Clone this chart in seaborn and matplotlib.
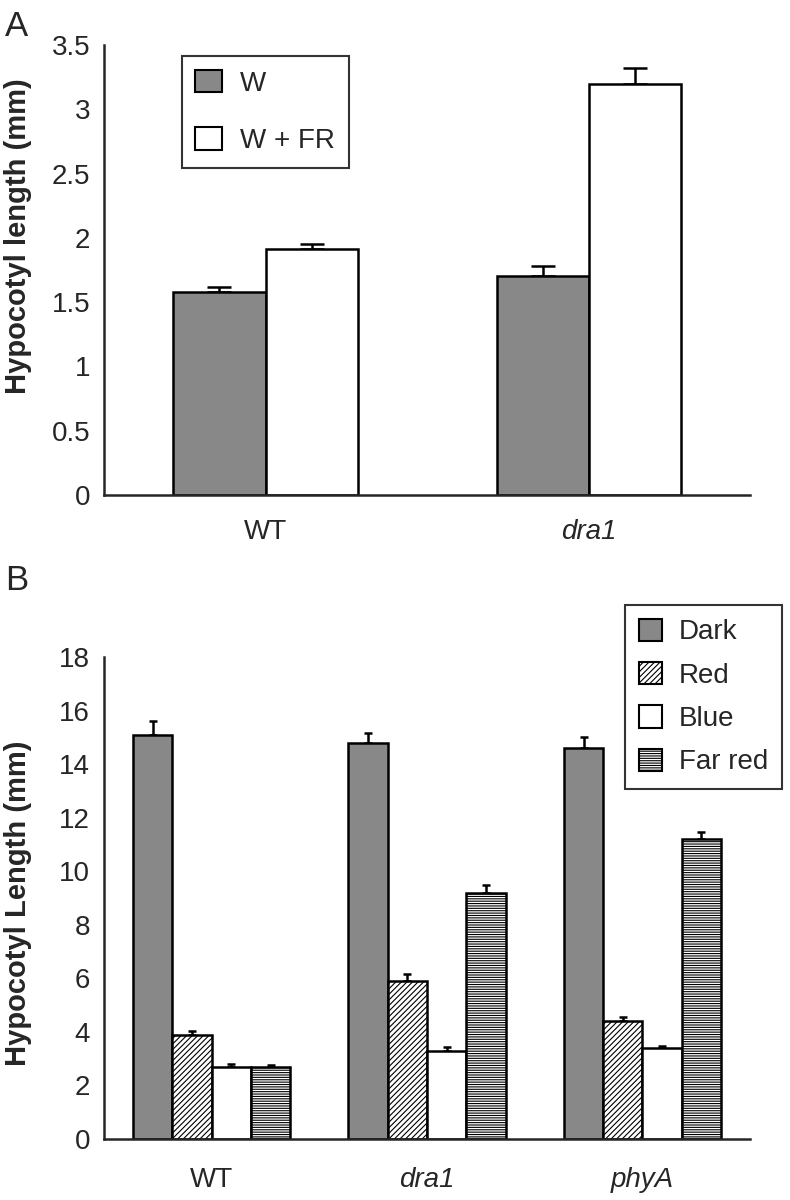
import matplotlib
matplotlib.use("Agg")
import matplotlib.pyplot as plt
import seaborn as sns
import pandas as pd

# Panel A
a_groups = ["WT", "dra1"]
a_treat = ["W", "W + FR"]
a_W = [1.58, 1.70]
a_WFR = [1.91, 3.20]
a_W_err = [0.04, 0.08]
a_WFR_err = [0.04, 0.12]

# Panel B
b_groups = ["WT", "dra1", "phyA"]
b_light = ["Dark", "Red", "Blue", "Far red"]
b_dark = [15.1, 14.8, 14.6]
b_red = [3.9, 5.9, 4.4]
b_blue = [2.7, 3.3, 3.4]
b_farred = [2.7, 9.2, 11.2]
b_dark_err = [0.5, 0.35, 0.4]
b_red_err = [0.15, 0.25, 0.15]
b_blue_err = [0.1, 0.15, 0.08]
b_farred_err = [0.08, 0.3, 0.25]

sns.set_style("white")
plt.rcParams["font.family"] = ["Liberation Sans", "DejaVu Sans"]
plt.rcParams["hatch.linewidth"] = 0.8
plt.rcParams["axes.linewidth"] = 1.8

GRAY = "#888888"
FS = 20

dfA = pd.DataFrame({
    "group": a_groups * 2,
    "treat": [a_treat[0]] * 2 + [a_treat[1]] * 2,
    "val": a_W + a_WFR,
})
errA = [a_W_err, a_WFR_err]

dfB = pd.DataFrame({
    "group": b_groups * 4,
    "light": sum([[l] * 3 for l in b_light], []),
    "val": b_dark + b_red + b_blue + b_farred,
})
errB = [b_dark_err, b_red_err, b_blue_err, b_farred_err]

fig = plt.figure(figsize=(7.9, 12), dpi=100)
axA = fig.add_axes([0.1316, 0.5875, 0.818, 0.375])
axB = fig.add_axes([0.1316, 0.0508, 0.818, 0.4017])


def style_axis(ax, ncat):
    sns.despine(ax=ax)
    ax.set_xlim(-0.5, ncat - 0.5)
    ax.set_xticks([i - 0.5 for i in range(ncat + 1)])
    ax.set_xticklabels([])
    ax.tick_params(axis="x", which="major", direction="out", length=8, width=1.8)
    ax.tick_params(axis="y", which="both", direction="out", width=1.8,
                   labelsize=FS, pad=3, length=7)
    ax.set_xlabel("")


def add_err(ax, errs, cap):
    for cont, err in zip(ax.containers, errs):
        for bar, e in zip(cont, err):
            x = bar.get_x() + bar.get_width() / 2
            h = bar.get_height()
            ax.errorbar(x, h, yerr=[[0], [e]], fmt="none", ecolor="black",
                        elinewidth=1.8, capsize=cap, capthick=1.8, zorder=1)


def cat_labels(ax, groups, off):
    for i, g in enumerate(groups):
        ax.annotate(g, xy=(i, 0), xycoords=("data", "axes fraction"),
                    xytext=(0, -off), textcoords="offset pixels",
                    ha="center", va="top", fontsize=FS,
                    style="italic" if g != "WT" else "normal")


# ---- A ----
sns.barplot(data=dfA, x="group", y="val", hue="treat", ax=axA, width=0.57,
            palette=[GRAY, "white"], edgecolor="black", linewidth=1.8,
            errorbar=None, legend=False, gap=0, zorder=2)
add_err(axA, errA, 8.5)
style_axis(axA, 2)
axA.set_ylim(0, 3.5)
axA.set_yticks([0, 0.5, 1, 1.5, 2, 2.5, 3, 3.5])
axA.set_yticklabels(["0", "0.5", "1", "1.5", "2", "2.5", "3", "3.5"])
axA.set_ylabel("Hypocotyl length (mm)", fontsize=21, fontweight="bold")
axA.yaxis.set_label_coords(-0.112, 0.575)
cat_labels(axA, a_groups, 24)

hA = [plt.Rectangle((0, 0), 1, 1, facecolor=c, edgecolor="black", linewidth=1.5)
      for c in [GRAY, "white"]]
legA = axA.legend(hA, a_treat, loc="upper left", bbox_to_anchor=(0.12, 0.975),
                  fontsize=FS, frameon=True, fancybox=False, handlelength=0.95,
                  handleheight=0.85, borderpad=0.5, labelspacing=1.1,
                  handletextpad=0.65, borderaxespad=0)
legA.get_frame().set_edgecolor("black")
legA.get_frame().set_linewidth(1.5)

# ---- B ----
sns.barplot(data=dfB, x="group", y="val", hue="light", ax=axB, width=0.73,
            palette=[GRAY, "white", "white", "white"], edgecolor="black", linewidth=1.8,
            errorbar=None, legend=False, gap=0, zorder=2)
hatches = ["", "//////", "", "-------"]
for cont, h in zip(axB.containers, hatches):
    for bar in cont:
        bar.set_hatch(h)
add_err(axB, errB, 3)
style_axis(axB, 3)
axB.set_ylim(0, 18)
axB.set_yticks(range(0, 19, 2))
axB.set_yticks(range(1, 18, 2), minor=True)
axB.set_ylabel("Hypocotyl Length (mm)", fontsize=21, fontweight="bold")
axB.yaxis.set_label_coords(-0.112, 0.49)
cat_labels(axB, b_groups, 28)

hB = [plt.Rectangle((0, 0), 1, 1, facecolor=c, edgecolor="black", linewidth=1.5, hatch=h)
      for c, h in zip([GRAY, "white", "white", "white"], hatches)]
legB = axB.legend(hB, b_light, loc="upper left", bbox_to_anchor=(0.791, 0.496),
                  bbox_transform=fig.transFigure, fontsize=FS, frameon=True,
                  fancybox=False, handlelength=0.85, handleheight=0.85,
                  borderpad=0.5, labelspacing=0.6, handletextpad=0.6,
                  borderaxespad=0)
legB.get_frame().set_edgecolor("black")
legB.get_frame().set_linewidth(1.5)

fig.text(0.006, 0.992, "A", fontsize=25, va="top")
fig.text(0.006, 0.530, "B", fontsize=25, va="top")

fig.savefig("out.png", dpi=100, facecolor="white")
